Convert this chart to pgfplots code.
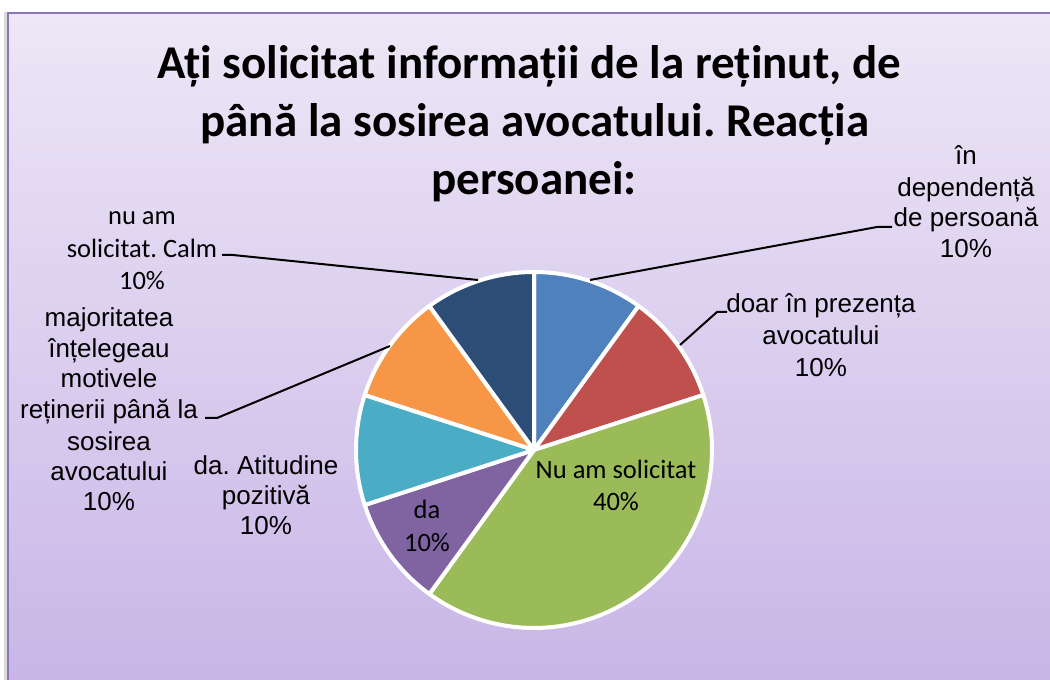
\documentclass[border=0pt]{standalone}
\usepackage{pgfplots}
\pgfplotsset{compat=1.18}
\usepackage{pgfplotstable}
\usepackage{fontspec}
\setmainfont{Liberation Sans}
\newfontfamily\titlefont{Carlito}
\frenchspacing

\definecolor{s0}{HTML}{4F81BD}
\definecolor{s1}{HTML}{C0504D}
\definecolor{s2}{HTML}{9BBB59}
\definecolor{s3}{HTML}{8064A2}
\definecolor{s4}{HTML}{4BACC6}
\definecolor{s5}{HTML}{F79646}
\definecolor{s6}{HTML}{2C4D75}
\definecolor{bgtop}{HTML}{EDE7F6}
\definecolor{bgbot}{HTML}{C8B5E7}
\definecolor{frame}{HTML}{8A76B4}

% slices clockwise from 12 o'clock
\pgfplotstableread{
value
10
10
40
10
10
10
10
}\piedata

\newcommand{\tl}[3]{\node[anchor=base, inner sep=0pt, font=\fontsize{26}{31}\selectfont] at (axis cs:#1,#2) {#3};}
\newcommand{\tc}[3]{\node[anchor=base, inner sep=0pt, font=\titlefont\fontsize{26.5}{31}\selectfont] at (axis cs:#1,#2) {#3};}
\newcommand{\ttl}[3]{\node[anchor=base, inner sep=0pt, font=\titlefont\bfseries\fontsize{47}{58}\selectfont] at (axis cs:#1,#2) {#3};}

\begin{document}
\begin{tikzpicture}[x=1pt,y=1pt]
\fill[white] (0,0) rectangle (1050,680);
\fill[black!14] (4,-10) rectangle (1060,668);
\fill[top color=bgtop, bottom color=bgbot] (8,-10) rectangle (1060,667);
\draw[frame, line width=1.5pt] (8,-10) rectangle (1060,667);
\pgfplotstablegetrowsof{\piedata}
\pgfmathtruncatemacro\N{\pgfplotsretval-1}
\begin{axis}[at={(0,0)}, anchor=south west, width=1050pt, height=680pt,
  scale only axis, xmin=0, xmax=1050, ymin=0, ymax=680, hide axis, clip=false]
\gdef\cum{0}
\pgfplotsforeachungrouped \i in {0,...,\N}{%
  \pgfplotstablegetelem{\i}{value}\of\piedata
  \pgfmathsetmacro\a{\cum}%
  \pgfmathsetmacro\b{\cum+\pgfplotsretval}%
  \edef\temp{\noexpand\addplot[fill=s\i, draw=white, line width=4pt, line join=round, domain=\a:\b, samples=60, variable=\noexpand\t] ({534+178*cos(90-3.6*\noexpand\t)},{230+178*sin(90-3.6*\noexpand\t)}) -- (axis cs:534,230) -- cycle;}%
  \temp
  \xdef\cum{\b}%
}
% title
\ttl{529}{601}{Ați solicitat informații de la reținut, de}
\ttl{535}{543}{până la sosirea avocatului. Reacția}
\ttl{534}{485}{persoanei:}
% leader lines
\draw[black, line width=2pt] (axis cs:590,400) -- (axis cs:877,453) -- (axis cs:892,453);
\draw[black, line width=2pt] (axis cs:680,335) -- (axis cs:717,368) -- (axis cs:727,368);
\draw[black, line width=2pt] (axis cs:390,334) -- (axis cs:217,262) -- (axis cs:205,262);
\draw[black, line width=2pt] (axis cs:478,400) -- (axis cs:233,425) -- (axis cs:222,425);
% labels
\tl{966}{515}{în}
\tl{966}{483}{dependență}
\tl{966}{453}{de persoană}
\tl{966}{422}{10\%}
\tl{821}{367}{doar în prezența}
\tl{821}{335}{avocatului}
\tl{821}{303}{10\%}
\tc{616}{201}{Nu am solicitat}
\tc{616}{169}{40\%}
\tc{427}{161}{da}
\tc{427}{128}{10\%}
\tl{266}{205}{da. Atitudine}
\tl{266}{175}{pozitivă}
\tl{266}{145}{10\%}
\tl{109}{353}{majoritatea}
\tl{109}{322}{înțelegeau}
\tl{109}{292}{motivele}
\tl{109}{261}{reținerii până la}
\tl{109}{229}{sosirea}
\tl{109}{199}{avocatului}
\tl{109}{169}{10\%}
\tc{142}{455}{nu am}
\tc{142}{422}{solicitat. Calm}
\tc{142}{390}{10\%}
\end{axis}
\pgfresetboundingbox
\path (0,0) rectangle (1050,680);
\end{tikzpicture}
\end{document}
